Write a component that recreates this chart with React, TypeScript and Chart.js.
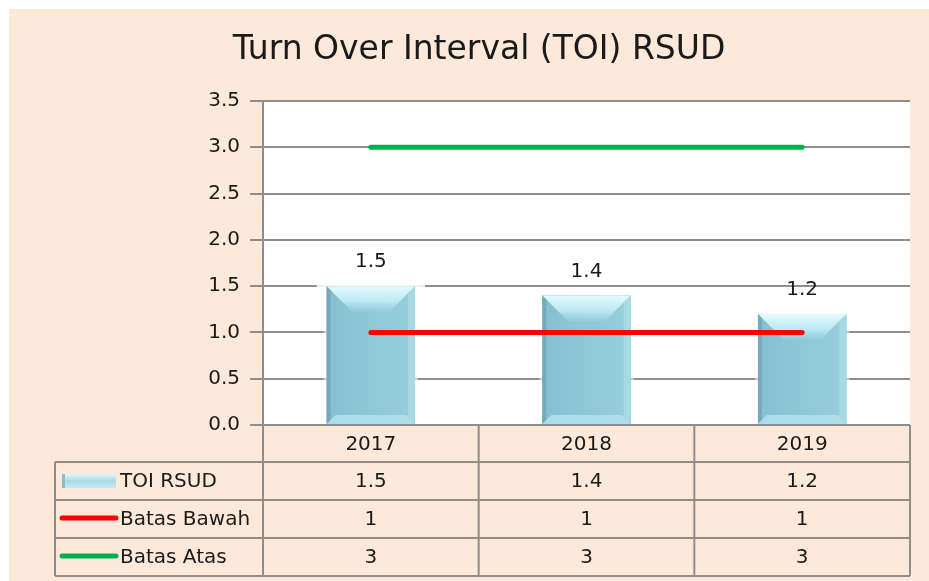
import React, { useEffect, useRef } from "react";
import { Chart, registerables } from "chart.js";

Chart.register(...registerables);

const TITLE = "Turn Over Interval (TOI) RSUD";
const categories = ["2017", "2018", "2019"];
const toiValues = [1.5, 1.4, 1.2];
const batasBawah = [1, 1, 1];
const batasAtas = [3, 3, 3];
const seriesNames = ["TOI RSUD", "Batas Bawah", "Batas Atas"];
const tableValues = [
  ["1.5", "1.4", "1.2"],
  ["1", "1", "1"],
  ["3", "3", "3"],
];

const W = 920;
const H = 572;
const FONT = "DejaVu Sans";
const TEXT = "#1a1a1a";
const GRID = "#8e8e8e";
const PEACH = "#fde9d9";
const RED = "#ff0000";
const GREEN = "#00b050";

function poly(ctx: CanvasRenderingContext2D, pts: number[][], fill: any) {
  ctx.fillStyle = fill;
  ctx.beginPath();
  ctx.moveTo(pts[0][0], pts[0][1]);
  for (let i = 1; i < pts.length; i++) ctx.lineTo(pts[i][0], pts[i][1]);
  ctx.closePath();
  ctx.fill();
}

function drawBevelBar(ctx: CanvasRenderingContext2D, left: number, top: number, right: number, bottom: number) {
  const h = bottom - top;
  const bt = Math.min(26, h / 3);
  const bl = 4;
  const br = 7;
  const bb = Math.min(9, h / 6);
  // face
  let g = ctx.createLinearGradient(left, 0, right, 0);
  g.addColorStop(0, "#86c0cf");
  g.addColorStop(1, "#98cfdc");
  ctx.fillStyle = g;
  ctx.fillRect(left, top, right - left, h);
  // top bevel
  g = ctx.createLinearGradient(0, top, 0, top + bt);
  g.addColorStop(0, "rgba(228,252,255,1)");
  g.addColorStop(0.6, "rgba(196,238,246,0.85)");
  g.addColorStop(1, "rgba(160,215,228,0.3)");
  poly(ctx, [[left, top], [right, top], [right - bt, top + bt], [left + bt, top + bt]], g);
  // left edge
  poly(ctx, [[left, top], [left + bl, top + bl], [left + bl, bottom - bl], [left, bottom]], "rgba(110,165,182,0.8)");
  // right edge
  poly(ctx, [[right, top], [right - br, top + br], [right - br, bottom - br], [right, bottom]], "rgba(170,220,232,0.85)");
  // bottom edge
  poly(ctx, [[left, bottom], [left + bb, bottom - bb], [right - bb, bottom - bb], [right, bottom]], "rgba(175,224,235,0.9)");
}

const customPlugin = {
  id: "custom",
  beforeDraw(chart: any) {
    const ctx = chart.ctx as CanvasRenderingContext2D;
    const a = chart.chartArea;
    ctx.save();
    ctx.fillStyle = PEACH;
    ctx.fillRect(0, 0, chart.width, chart.height);
    ctx.fillStyle = "#ffffff";
    ctx.fillRect(a.left, a.top, a.right - a.left, a.bottom - a.top);
    ctx.restore();
  },
  beforeDatasetDraw(chart: any, args: any) {
    if (args.index !== 0) return;
    const ctx = chart.ctx as CanvasRenderingContext2D;
    const meta = chart.getDatasetMeta(0);
    ctx.save();
    meta.data.forEach((bar: any) => {
      const left = bar.x - bar.width / 2;
      ctx.fillStyle = "rgba(255,255,255,0.85)";
      ctx.fillRect(left - 10, bar.y - 2, bar.width + 20, 5);
      ctx.fillStyle = "rgba(255,255,255,0.5)";
      ctx.fillRect(left - 3, bar.y - 2, bar.width + 6, bar.base - bar.y);
    });
    ctx.restore();
  },
  afterDatasetDraw(chart: any, args: any) {
    if (args.index !== 0) return;
    const ctx = chart.ctx as CanvasRenderingContext2D;
    const meta = chart.getDatasetMeta(0);
    ctx.save();
    meta.data.forEach((bar: any) => {
      drawBevelBar(ctx, bar.x - bar.width / 2, bar.y, bar.x + bar.width / 2, bar.base);
    });
    ctx.restore();
  },
  afterDatasetsDraw(chart: any) {
    const ctx = chart.ctx as CanvasRenderingContext2D;
    const meta = chart.getDatasetMeta(0);
    ctx.save();
    ctx.fillStyle = TEXT;
    ctx.font = `20px "${FONT}"`;
    ctx.textAlign = "center";
    ctx.textBaseline = "middle";
    meta.data.forEach((bar: any, i: number) => {
      ctx.fillText(String(toiValues[i]), bar.x, bar.y - 24);
    });
    ctx.restore();
  },
  afterDraw(chart: any) {
    const ctx = chart.ctx as CanvasRenderingContext2D;
    const a = chart.chartArea;
    const xs = chart.scales.x;
    ctx.save();
    ctx.fillStyle = TEXT;
    ctx.font = `33px "${FONT}"`;
    ctx.textAlign = "center";
    ctx.textBaseline = "middle";
    ctx.fillText(TITLE, chart.width / 2 + 10, 41);

    const n = categories.length;
    const catW = (a.right - a.left) / n;
    const colEdges: number[] = [];
    for (let i = 0; i <= n; i++) colEdges.push(a.left + catW * i);
    const rowH = 38;
    const headTop = a.bottom;
    const headBottom = headTop + 37;
    const rows = [headBottom, headBottom + rowH, headBottom + rowH * 2, headBottom + rowH * 3];
    const tableLeft = 46;

    ctx.strokeStyle = GRID;
    ctx.lineWidth = 2;
    ctx.beginPath();
    ctx.moveTo(a.left, headTop);
    ctx.lineTo(a.right, headTop);
    rows.forEach((y) => {
      ctx.moveTo(tableLeft, y);
      ctx.lineTo(a.right, y);
    });
    colEdges.forEach((x) => {
      ctx.moveTo(x, headTop);
      ctx.lineTo(x, rows[3]);
    });
    ctx.moveTo(tableLeft, rows[0]);
    ctx.lineTo(tableLeft, rows[3]);
    ctx.stroke();

    ctx.fillStyle = TEXT;
    ctx.font = `20px "${FONT}"`;
    ctx.textAlign = "center";
    ctx.textBaseline = "middle";
    categories.forEach((c, i) => {
      const cx = xs.getPixelForValue(i);
      ctx.fillText(c, cx, (headTop + headBottom) / 2 + 1);
    });
    tableValues.forEach((row, r) => {
      const cy = (rows[r] + rows[r + 1]) / 2 + 1;
      row.forEach((v, i) => {
        ctx.fillText(v, xs.getPixelForValue(i), cy);
      });
    });
    ctx.textAlign = "left";
    seriesNames.forEach((name, r) => {
      const cy = (rows[r] + rows[r + 1]) / 2;
      const kx0 = 53;
      const kx1 = 107;
      if (r === 0) {
        const g = ctx.createLinearGradient(0, cy - 7, 0, cy + 7);
        g.addColorStop(0, "#dff7fb");
        g.addColorStop(0.5, "#a9dae6");
        g.addColorStop(1, "#c5eaf1");
        ctx.fillStyle = g;
        ctx.fillRect(kx0, cy - 7, kx1 - kx0, 14);
        ctx.fillStyle = "#86bccb";
        ctx.fillRect(kx0, cy - 7, 3, 14);
      } else {
        ctx.strokeStyle = r === 1 ? RED : GREEN;
        ctx.lineWidth = 5;
        ctx.lineCap = "round";
        ctx.beginPath();
        ctx.moveTo(kx0, cy - 1);
        ctx.lineTo(kx1, cy - 1);
        ctx.stroke();
      }
      ctx.fillStyle = TEXT;
      ctx.fillText(name, 111, cy + 1);
    });
    ctx.restore();
  },
};

export default function App() {
  const ref = useRef<HTMLCanvasElement | null>(null);
  useEffect(() => {
    if (!ref.current) return;
    const chart = new Chart(ref.current, {
      type: "bar",
      data: {
        labels: categories,
        datasets: [
          {
            type: "bar",
            label: seriesNames[0],
            data: toiValues,
            backgroundColor: "#93cbd9",
            barPercentage: 0.41,
            categoryPercentage: 1,
            order: 2,
          } as any,
          {
            type: "line",
            label: seriesNames[1],
            data: batasBawah,
            borderColor: RED,
            borderWidth: 5,
            borderCapStyle: "round",
            pointRadius: 0,
            fill: false,
            order: 1,
          } as any,
          {
            type: "line",
            label: seriesNames[2],
            data: batasAtas,
            borderColor: GREEN,
            borderWidth: 5,
            borderCapStyle: "round",
            pointRadius: 0,
            fill: false,
            order: 0,
          } as any,
        ],
      },
      options: {
        responsive: false,
        animation: false,
        layout: { padding: { left: 0, top: 92, right: 19, bottom: 156 } },
        plugins: { legend: { display: false }, tooltip: { enabled: false }, title: { display: false } },
        scales: {
          x: { display: false, offset: true },
          y: {
            min: 0,
            max: 3.5,
            afterFit: (scale: any) => {
              scale.width = 254;
            },
            ticks: {
              stepSize: 0.5,
              padding: 10,
              color: TEXT,
              font: { family: FONT, size: 20 },
              callback: (v: any) => Number(v).toFixed(1),
            },
            grid: { color: GRID, lineWidth: 2, tickLength: 13 },
            border: { display: true, color: GRID, width: 2 },
          },
        },
      },
      plugins: [customPlugin],
    });
    return () => chart.destroy();
  }, []);
  return (
    <div style={{ position: "absolute", left: 9, top: 9, width: W, height: H, background: PEACH }}>
      <canvas ref={ref} width={W} height={H} style={{ width: W, height: H, display: "block" }} />
    </div>
  );
}
